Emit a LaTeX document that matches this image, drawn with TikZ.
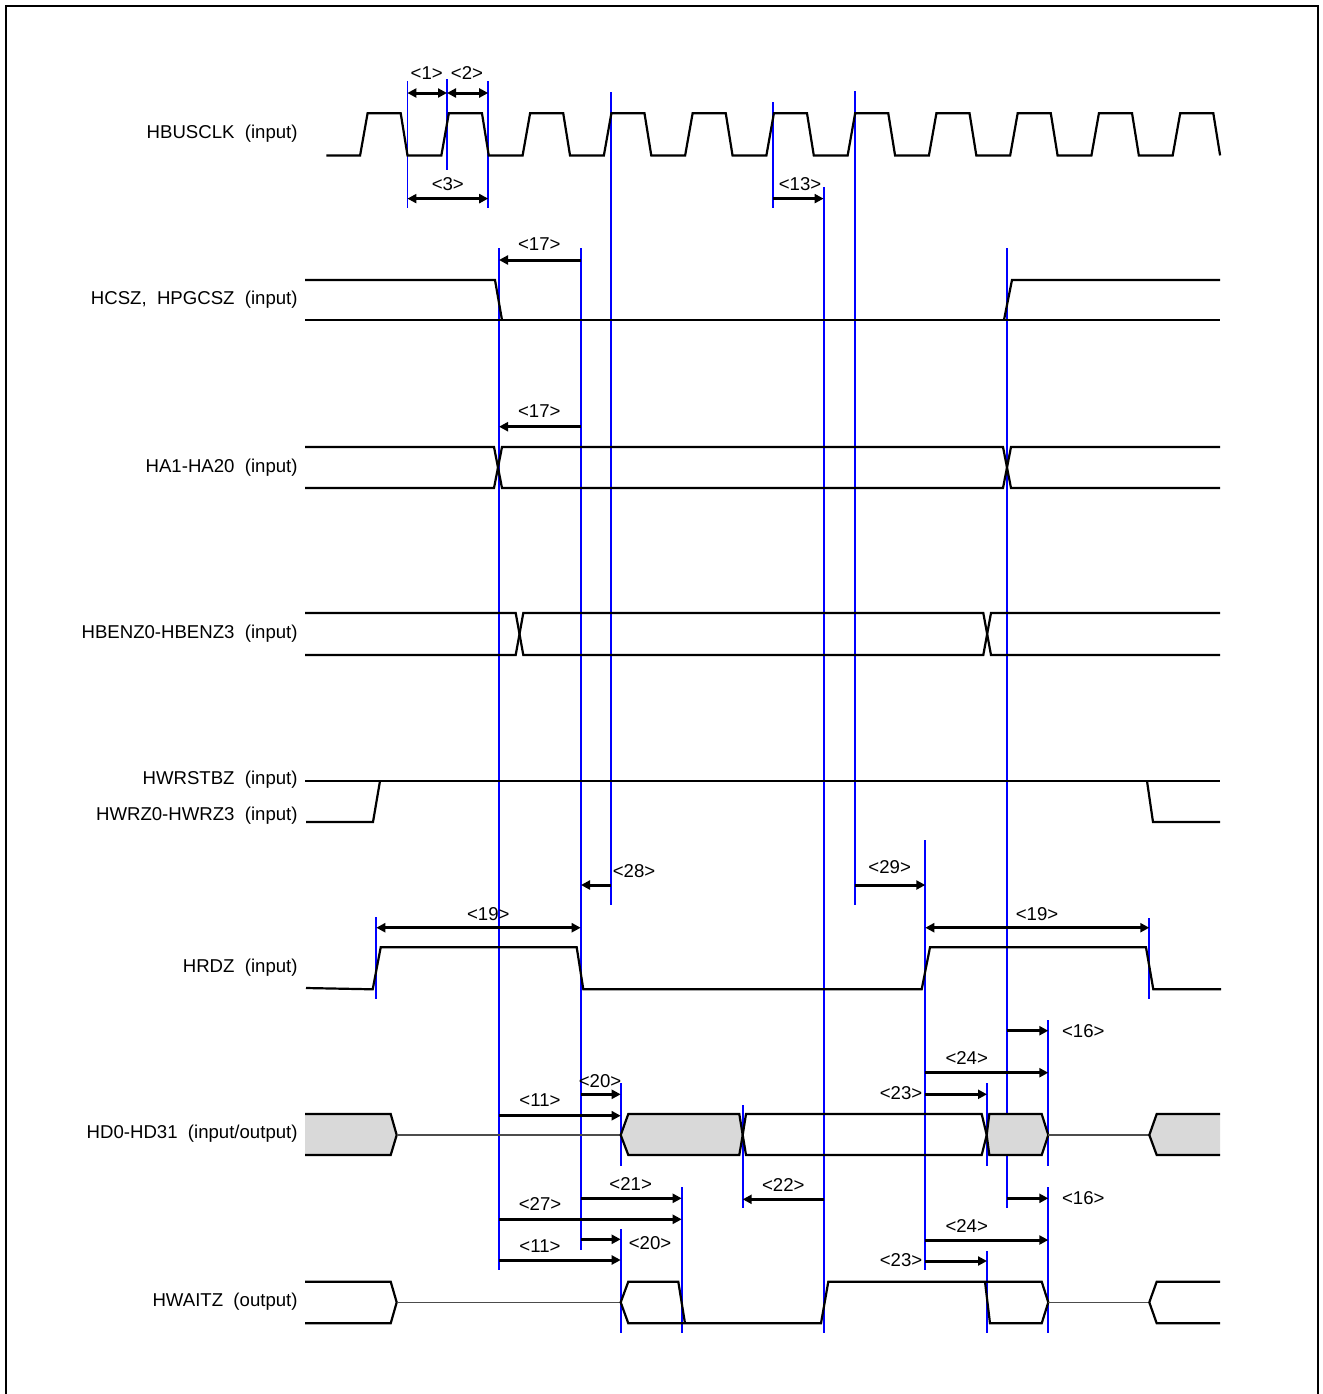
\documentclass[tikz,border=0pt]{standalone}
\usepackage{fontspec}
\setmainfont{Liberation Sans}
\usetikzlibrary{arrows.meta}

\begin{document}
\begin{tikzpicture}[x=0.5pt,y=-0.5pt,
  sig/.style={line width=1.1pt},
  hiz/.style={line width=0.6pt,black!70},
  bus/.style={sig,fill=black!15},
  vl/.style={line width=0.9pt,blue},
  lbl/.style={font=\fontsize{9.3}{10}\selectfont,inner sep=0pt},
  signame/.style={lbl,anchor=east},
  dimr/.style={line width=1.5pt,-{Triangle[length=4.5pt,width=4.5pt]}},
  dimb/.style={line width=1.5pt,{Triangle[length=4.5pt,width=4.5pt]}-{Triangle[length=4.5pt,width=4.5pt]}}]
\useasboundingbox (0,0) rectangle (1323,1394);
\draw[line width=1pt] (5.5,1394) -- (5.5,5.5) -- (1318,5.5) -- (1318,1394);

\draw (298,134)  node (clk)  [signame] {HBUSCLK\ \ (input)};
\draw (298,300)  node (cs)   [signame] {HCSZ,\ \ HPGCSZ\ \ (input)};
\draw (298,468)  node (ha)   [signame] {HA1-HA20\ \ (input)};
\draw (298,634)  node (ben)  [signame] {HBENZ0-HBENZ3\ \ (input)};
\draw (298,780)  node (wst)  [signame] {HWRSTBZ\ \ (input)};
\draw (298,816)  node (wrz)  [signame] {HWRZ0-HWRZ3\ \ (input)};
\draw (298,968)  node (rdz)  [signame] {HRDZ\ \ (input)};
\draw (298,1134) node (hd)   [signame] {HD0-HD31\ \ (input/output)};
\draw (298,1302) node (wait) [signame] {HWAITZ\ \ (output)};

\draw[vl] (407.4,81) -- (407.4,208);
\draw[vl] (447,79) -- (447,170);
\draw[vl] (488.2,81) -- (488.2,208);
\draw[vl] (610.8,92) -- (610.8,905);
\draw[vl] (773,102) -- (773,208);
\draw[vl] (823.6,187) -- (823.6,1333);
\draw[vl] (855,91) -- (855,905);
\draw[vl] (499,248) -- (499,1270);
\draw[vl] (581,248) -- (581,1250);
\draw[vl] (1006.7,248) -- (1006.7,1208);
\draw[vl] (376.3,917) -- (376.3,999);
\draw[vl] (925.3,840) -- (925.3,1270);
\draw[vl] (1149.3,918) -- (1149.3,999);
\draw[vl] (620.7,1083) -- (620.7,1166) (620.7,1229) -- (620.7,1333);
\draw[vl] (742.7,1105) -- (742.7,1208);
\draw[vl] (1048.3,1020) -- (1048.3,1166) (1048.3,1187) -- (1048.3,1333);
\draw[vl] (987,1083) -- (987,1166) (987,1251) -- (987,1333);
\draw[vl] (681.7,1187) -- (681.7,1333);

\draw[sig] (326.4,155.4) \foreach \k in {0,...,10}{
  -- ({360.1+81.26*\k},155.4) -- ({367.6+81.26*\k},113.2)
  -- ({400.7+81.26*\k},113.2) -- ({407.5+81.26*\k},155.4)};

\draw[sig] (305,280) -- (495,280) -- (502,320);
\draw[sig] (305,320) -- (1220,320);
\draw[sig] (1004,320) -- (1012,280) -- (1220,280);

\draw[sig] (305,447) -- (494,447) -- (502,488) -- (1003,488) -- (1011,447) -- (1220,447);
\draw[sig] (305,488) -- (494,488) -- (502,447) -- (1003,447) -- (1011,488) -- (1220,488);

\draw[sig] (305,613) -- (515.7,613) -- (523.3,655) -- (983.3,655) -- (991,613) -- (1220,613);
\draw[sig] (305,655) -- (515.7,655) -- (523.3,613) -- (983.3,613) -- (991,655) -- (1220,655);

\draw[sig] (305,781) -- (1220,781);
\draw[sig] (306,822) -- (373,822) -- (380,781);
\draw[sig] (1147,781) -- (1153,822) -- (1220,822);

\draw[sig] (306,988) -- (372.7,989.3) -- (380.7,947.3) -- (576.7,947.3) -- (583.3,989.3)
  -- (921.7,989.3) -- (930,947.3) -- (1146,947.3) -- (1153.3,989.3) -- (1221,989.3);

\draw[bus] (305,1114) -- (390.7,1114) -- (396.7,1135) -- (390.7,1155) -- (305,1155);
\draw[hiz] (396.7,1135) -- (620.7,1135);
\draw[bus] (620.7,1135) -- (628.3,1114) -- (739.3,1114) -- (742.7,1135) -- (739.3,1155) -- (628.3,1155) -- cycle;
\draw[sig] (742.7,1135) -- (746,1114) -- (981.7,1114) -- (986.7,1135) -- (981.7,1155) -- (746,1155) -- cycle;
\draw[bus] (986.7,1135) -- (989.3,1114) -- (1041.7,1114) -- (1048.3,1135) -- (1041.7,1155) -- (989.3,1155) -- cycle;
\draw[hiz] (1048.3,1135) -- (1149.3,1135);
\draw[bus] (1220,1114) -- (1156.7,1114) -- (1149.3,1135) -- (1156.7,1155) -- (1220,1155);

\draw[sig] (305,1281.7) -- (390.7,1281.7) -- (396.7,1302.3) -- (390.7,1323.3) -- (305,1323.3);
\draw[hiz] (396.7,1302.3) -- (620.7,1302.3);
\draw[sig] (685,1323.3) -- (678.3,1281.7) -- (628.3,1281.7) -- (620.7,1302.3) -- (628.3,1323.3)
  -- (821,1323.3) -- (828.3,1281.7) -- (1041.7,1281.7) -- (1048.3,1302.3) -- (1041.7,1323.3)
  -- (990,1323.3) -- (985,1281.7);
\draw[hiz] (1048.3,1302.3) -- (1149.3,1302.3);
\draw[sig] (1220,1281.7) -- (1156.7,1281.7) -- (1149.3,1302.3) -- (1156.7,1323.3) -- (1220,1323.3);

\draw[dimb] (407.4,93) -- (447,93);
\draw (426.7,73) node (t1) [lbl] {<1>};
\draw[dimb] (447,93) -- (488.2,93);
\draw (467,73) node (t2) [lbl] {<2>};
\draw[dimb] (407.4,198.6) -- (488.2,198.6);
\draw (447.8,184.5) node (t3) [lbl] {<3>};
\draw[dimr] (773,198.6) -- (823.6,198.6);
\draw (800,184.5) node (t13) [lbl] {<13>};

\draw[dimr] (581,260) -- (499,260);
\draw (539.3,244) node (t17a) [lbl] {<17>};
\draw[dimr] (581,426.7) -- (499,426.7);
\draw (539.3,411) node (t17b) [lbl] {<17>};

\draw[dimr] (611,885) -- (581,885);
\draw (634,870.7) node (t28) [lbl] {<28>};
\draw[dimr] (855,885) -- (925.3,885);
\draw (889.7,866.7) node (t29) [lbl] {<29>};
\draw[dimb] (376.3,927.7) -- (580.7,927.7);
\draw (488.3,914) node (t19a) [lbl] {<19>};
\draw[dimb] (925.3,927.7) -- (1149.3,927.7);
\draw (1037,914) node (t19b) [lbl] {<19>};

\draw[dimr] (1006.7,1030.7) -- (1048.3,1030.7);
\draw (1083.3,1030.7) node (t16a) [lbl] {<16>};
\draw[dimr] (925.3,1072.7) -- (1048.3,1072.7);
\draw (966.7,1058.3) node (t24a) [lbl] {<24>};
\draw[dimr] (580.7,1094.3) -- (620.7,1094.3);
\draw (600,1080.7) node (t20a) [lbl] {<20>};
\draw[dimr] (925.3,1094.3) -- (987,1094.3);
\draw (901,1093.3) node (t23a) [lbl] {<23>};
\draw[dimr] (499,1115.7) -- (620.7,1115.7);
\draw (540,1100) node (t11a) [lbl] {<11>};

\draw[dimr] (580.7,1198.3) -- (681.7,1198.3);
\draw (630.7,1184) node (t21) [lbl] {<21>};
\draw[dimr] (824.3,1199.3) -- (742.7,1199.3);
\draw (783.3,1185) node (t22) [lbl] {<22>};
\draw[dimr] (1006.7,1198.3) -- (1048.3,1198.3);
\draw (1083.3,1198.3) node (t16b) [lbl] {<16>};
\draw[dimr] (499,1219.3) -- (681.7,1219.3);
\draw (540,1204.3) node (t27) [lbl] {<27>};
\draw[dimr] (925.3,1240) -- (1048.3,1240);
\draw (966.7,1226) node (t24b) [lbl] {<24>};
\draw[dimr] (580.7,1239.3) -- (620.7,1239.3);
\draw (650,1243.3) node (t20b) [lbl] {<20>};
\draw[dimr] (499,1260) -- (620.7,1260);
\draw (540,1246) node (t11b) [lbl] {<11>};
\draw[dimr] (925.3,1261) -- (987,1261);
\draw (901,1260) node (t23b) [lbl] {<23>};
\end{tikzpicture}
\end{document}
